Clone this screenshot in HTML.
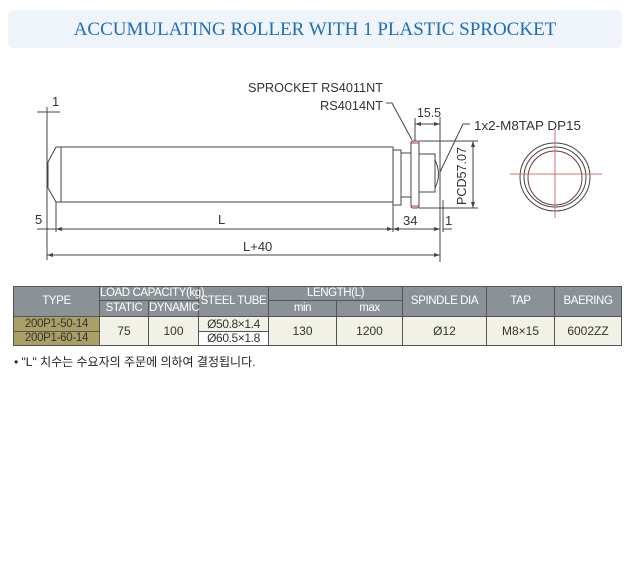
<!DOCTYPE html>
<html><head><meta charset="utf-8"><style>
body{margin:0;background:#fff;width:630px;height:583px;overflow:hidden;font-family:"Liberation Sans",sans-serif}
.title{position:absolute;left:8px;top:10px;width:614px;height:38px;background:#eef4fa;border-radius:5px;text-align:center;line-height:40px;font-family:"Liberation Serif",serif;font-size:19px;color:#1f6db5}
table{position:absolute;left:13px;top:286px;width:608px;table-layout:fixed;border-collapse:collapse;font-size:12px;color:#333;white-space:nowrap}
td{border:1px solid #555;text-align:center;padding:0;line-height:13px}
.h{background:#8b9297;color:#fff;font-size:11.5px;letter-spacing:-0.4px}
.t{background:#aaa066;color:#333;font-size:11.5px;letter-spacing:-0.3px}
.d{background:#f2f1e6}
.s{letter-spacing:-0.4px}
.note{position:absolute;left:14px;top:353px;font-size:12px;color:#222;font-family:"Liberation Sans","Noto Sans CJK KR",sans-serif}
</style></head><body>
<div class="title">ACCUMULATING ROLLER WITH 1 PLASTIC SPROCKET</div>
<svg width="630" height="583" style="position:absolute;left:0;top:0" font-family="Liberation Sans, sans-serif" font-size="13" fill="#333">
<g stroke="#444" stroke-width="1" fill="none">
<polygon points="61,147 56,147 48,162 48,188 56,202 61,202"/>
<rect x="61" y="147" width="332" height="55"/>
<rect x="393" y="150" width="8" height="55"/>
<rect x="401" y="153" width="10" height="44"/>
<rect x="411" y="141" width="8" height="67" rx="2"/>
<rect x="419" y="154" width="16" height="38"/>
<path d="M435,160 Q442,174 435,188"/>
<line x1="47" y1="107" x2="47" y2="260"/>
<line x1="56" y1="202" x2="56" y2="232"/>
<line x1="393" y1="205" x2="393" y2="232"/>
<line x1="440" y1="117" x2="440" y2="262"/>
<line x1="443" y1="200" x2="443" y2="232"/>
<line x1="415" y1="118" x2="415" y2="141"/>
<line x1="37" y1="112" x2="60" y2="112"/>
<line x1="37" y1="229" x2="440" y2="229"/>
<line x1="443" y1="229" x2="452" y2="229"/>
<line x1="47" y1="255" x2="440" y2="255"/>
<line x1="415" y1="124" x2="440" y2="124"/>
<line x1="419" y1="141" x2="478" y2="141"/>
<line x1="419" y1="208" x2="478" y2="208"/>
<line x1="473" y1="141" x2="473" y2="208"/>
<polyline points="386,103 392,103 412,140"/>
<polyline points="470,124 463,124 440,172"/>
</g>
<g fill="#444">
<polygon points="56,229 62,227 62,231"/><polygon points="393,229 387,227 387,231"/>
<polygon points="393,229 399,227 399,231"/><polygon points="440,229 434,227 434,231"/>
<polygon points="47,255 53,253 53,257"/><polygon points="440,255 434,253 434,257"/>
<polygon points="415,124 421,122 421,126"/><polygon points="440,124 434,122 434,126"/>
<polygon points="473,141 471,147 475,147"/><polygon points="473,208 471,202 475,202"/>
</g>
<g stroke="#d05050" stroke-width="1.2"><line x1="411" y1="143" x2="419" y2="143"/><line x1="411" y1="206" x2="419" y2="206"/></g>
<g fill="none" stroke="#444"><ellipse cx="555" cy="177" rx="35" ry="34"/><ellipse cx="555" cy="177" rx="31" ry="30"/><ellipse cx="555" cy="178" rx="27" ry="27" stroke="#6a3a3a"/></g>
<g stroke="#d07070"><line x1="510" y1="174" x2="602" y2="174"/><line x1="555" y1="130" x2="555" y2="218"/></g>
<text x="248" y="92" textLength="135" lengthAdjust="spacingAndGlyphs">SPROCKET RS4011NT</text>
<text x="320" y="110" textLength="63" lengthAdjust="spacingAndGlyphs">RS4014NT</text>
<text x="417" y="117" textLength="24" lengthAdjust="spacingAndGlyphs">15.5</text>
<text x="474" y="130" textLength="107" lengthAdjust="spacingAndGlyphs">1x2-M8TAP DP15</text>
<text x="52" y="106">1</text>
<text x="35" y="224">5</text>
<text x="218" y="224">L</text>
<text x="403" y="225">34</text>
<text x="445" y="225">1</text>
<text x="243" y="251">L+40</text>
<text transform="translate(466,205) rotate(-90)" textLength="58" lengthAdjust="spacingAndGlyphs">PCD57.07</text>
</svg>
<table>
<colgroup><col style="width:86px"><col style="width:49px"><col style="width:50px"><col style="width:70px"><col style="width:68px"><col style="width:66px"><col style="width:84px"><col style="width:68px"><col style="width:67px"></colgroup>
<tr style="height:13px"><td class="h" rowspan="2">TYPE</td><td class="h" colspan="2">LOAD CAPACITY(kg)</td><td class="h" rowspan="2">STEEL TUBE</td><td class="h" colspan="2">LENGTH(L)</td><td class="h" rowspan="2">SPINDLE DIA</td><td class="h" rowspan="2">TAP</td><td class="h" rowspan="2">BAERING</td></tr>
<tr style="height:16px"><td class="h">STATIC</td><td class="h">DYNAMIC</td><td class="h">min</td><td class="h">max</td></tr>
<tr style="height:15px"><td class="t">200P1-50-14</td><td class="d" rowspan="2">75</td><td class="d" rowspan="2">100</td><td class="d s">Ø50.8×1.4</td><td class="d" rowspan="2">130</td><td class="d" rowspan="2">1200</td><td class="d" rowspan="2">Ø12</td><td class="d" rowspan="2">M8×15</td><td class="d" rowspan="2">6002ZZ</td></tr>
<tr style="height:14px"><td class="t">200P1-60-14</td><td class="s" style="background:#fff">Ø60.5×1.8</td></tr>
</table>
<div class="note">• "L" 치수는 수요자의 주문에 의하여 결정됩니다.</div>
</body></html>
